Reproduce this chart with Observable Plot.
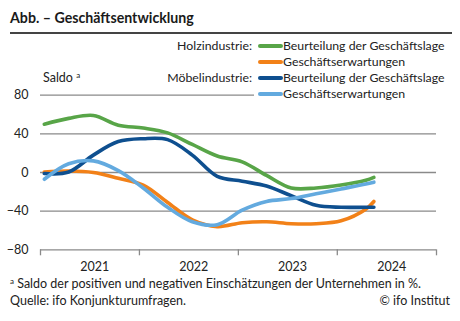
<!DOCTYPE html>
<html><head><meta charset="utf-8">
<script src="https://cdn.jsdelivr.net/npm/d3@7"></script>
<script src="https://cdn.jsdelivr.net/npm/@observablehq/plot@0.6"></script>
<style>
body{margin:0;background:#fff;font-family:Lato,"Noto Sans",sans-serif;color:#222}
#wrap{position:relative;width:460px;height:321px;overflow:hidden;background:#fff}
#chart{position:absolute;left:0;top:0}
.abs{position:absolute;white-space:nowrap}
.sup{font-size:8px;line-height:0;position:relative;top:-4px}
</style></head><body>
<div id="wrap">
<div id="chart"></div>
<div class="abs" style="left:10px;top:9px;font-size:14.2px;line-height:18px;font-weight:700;color:#1a1a1a">Abb. – Geschäftsentwicklung</div>
<div class="abs" style="left:10px;top:32px;width:442px;height:2px;background:#444"></div>
<div class="abs" style="left:254px;top:38px;width:206px;height:64px;background:#fff"></div>
<div id="legend"></div>
<div class="abs" style="left:43px;top:70px;font-size:12.5px;line-height:16px;color:#222">Saldo <span class="sup">a</span></div>
<div class="abs" style="left:10px;top:276px;font-size:12.5px;line-height:16px"><span class="sup">a</span> Saldo der positiven und negativen Einschätzungen der Unternehmen in %.</div>
<div class="abs" style="left:10px;top:293px;font-size:12.5px;line-height:16px">Quelle: ifo Konjunkturumfragen.</div>
<div class="abs" style="right:10px;top:293px;font-size:12.5px;line-height:16px">© ifo Institut</div>
</div>
<script>
const months = ["2021-01-15","2021-04-15","2021-07-15","2021-10-15","2022-01-15","2022-04-15","2022-07-15","2022-10-15","2023-01-15","2023-04-15","2023-07-15","2023-10-15","2024-01-15","2024-04-15","2024-05-15"];
const holzLage   = [50, 56, 59, 49, 46, 41, 29, 17, 11, -3, -16, -16, -13, -8, -5];
const holzErw    = [0.5, 1.5, 0, -6, -13, -31, -49, -56, -52, -51, -53, -53, -50, -38, -30];
const moebelLage = [-1, 0.5, 18, 32, 35, 34, 18, -4, -9, -14, -24, -34, -36, -36, -36];
const moebelErw  = [-7, 9, 12, 2, -16, -36, -51, -54, -39, -30, -27, -22, -17, -12, -10];

const seriesNames = ["Beurteilung der Geschäftslage","Geschäftserwartungen","Beurteilung der Geschäftslage","Geschäftserwartungen"];
const groupLabels = ["Holzindustrie:","","Möbelindustrie:",""];
const colors = ["#58a548","#f28118","#0e4f8f","#63aadf"];
const seriesValues = [holzLage, holzErw, moebelLage, moebelErw];
const yTicks = [80, 40, 0, -40, -80];
const yearLabels = ["2021","2022","2023","2024"];
const yearBounds = ["2021","2022","2023","2024","2025"];

const rows = [];
seriesValues.forEach((vals, s) => vals.forEach((v, i) => rows.push({s, date: new Date(months[i]), value: v})));

const chart = Plot.plot({
  width: 460, height: 321,
  marginLeft: 40, marginRight: 24, marginTop: 94.7, marginBottom: 71.7,
  style: {fontFamily: "Lato, 'Noto Sans', sans-serif", fontSize: "12.5px", color: "#222", background: "transparent"},
  x: {type: "utc", domain: [new Date("2021-01-01"), new Date("2025-01-01")]},
  y: {domain: [-80, 80]},
  marks: [
    Plot.ruleY(yTicks, {stroke: "#8a8a8a", strokeWidth: 1.3}),
    Plot.axisY({ticks: yTicks, tickSize: 0, tickPadding: 12, label: null, fontSize: 12.5}),
    Plot.axisX({ticks: yearBounds.map(y => new Date(y + "-01-01")), tickSize: 6, tickFormat: () => "", label: null, stroke: "#8a8a8a", strokeWidth: 1.3}),
    Plot.text(yearLabels, {x: d => new Date(d + "-07-20"), y: -80, dy: 17, text: d => d, fontSize: 12.5}),
    ...seriesValues.map((_, s) => Plot.line(rows.filter(r => r.s === s), {x: "date", y: "value", stroke: colors[s], strokeWidth: 3.6, curve: "catmull-rom"}))
  ]
});
document.getElementById("chart").appendChild(chart);

const leg = document.getElementById("legend");
seriesNames.forEach((name, i) => {
  const top = 38 + i * 16;
  if (groupLabels[i]) {
    const g = document.createElement("div");
    g.className = "abs";
    g.style.cssText = `right:${460-252}px;top:${top}px;font-size:12.3px;line-height:16px`;
    g.textContent = groupLabels[i];
    leg.appendChild(g);
  }
  const sw = document.createElement("div");
  sw.className = "abs";
  sw.style.cssText = `left:258px;top:${top+6}px;width:25px;height:3.5px;background:${colors[i]};border-radius:2px`;
  leg.appendChild(sw);
  const t = document.createElement("div");
  t.className = "abs";
  t.style.cssText = `left:283px;top:${top}px;font-size:12.3px;line-height:16px`;
  t.textContent = name;
  leg.appendChild(t);
});
</script>
</body></html>
